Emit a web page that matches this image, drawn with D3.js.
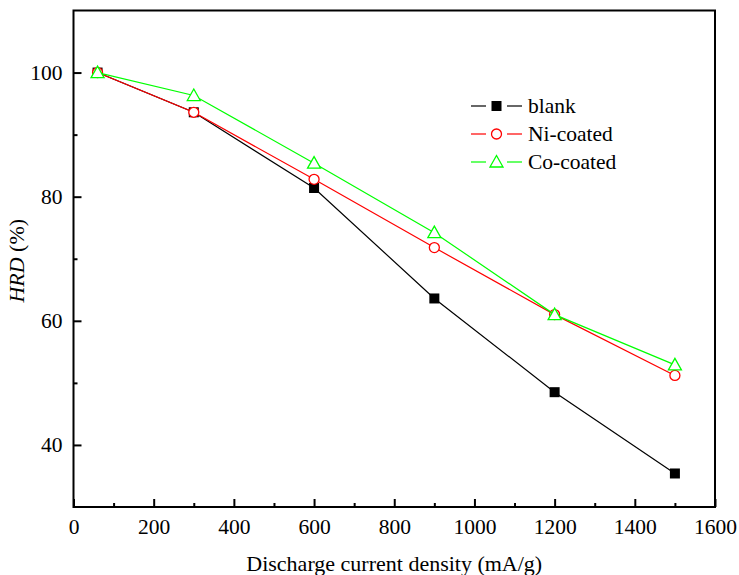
<!DOCTYPE html>
<html><head><meta charset="utf-8">
<script src="https://cdn.jsdelivr.net/npm/d3@7"></script>
<style>body{margin:0;background:#fff}svg{display:block}text{font-family:"Liberation Serif","Times New Roman",serif;fill:#000}</style>
</head><body>
<svg id="c" width="739" height="575"></svg>
<script>
const xValues = [60, 300, 600, 900, 1200, 1500];
const blank = [100, 93.6, 81.4, 63.6, 48.5, 35.4];
const niCoated = [100, 93.6, 82.8, 71.8, 61.0, 51.2];
const coCoated = [100, 96.3, 85.4, 74.2, 61.0, 52.9];
const seriesNames = ["blank", "Ni-coated", "Co-coated"];
const xTicks = [0, 200, 400, 600, 800, 1000, 1200, 1400, 1600];
const yTicks = [40, 60, 80, 100];

const svg = d3.select("#c");
const L = 73.5, R = 715, T = 10.5, B = 507;
const x = d3.scaleLinear().domain([0, 1600]).range([L, R]);
const y = d3.scaleLinear().domain([30, 110]).range([B, T]);

// frame
svg.append("rect").attr("x", L).attr("y", T).attr("width", R - L).attr("height", B - T)
  .attr("fill", "none").attr("stroke", "#000").attr("stroke-width", 2);

// x axis
const xAxis = svg.append("g").attr("transform", `translate(0,${B})`)
  .call(d3.axisBottom(x).tickValues(xTicks).tickSize(-8).tickPadding(12).tickFormat(d3.format("d")));
xAxis.select(".domain").remove();
xAxis.selectAll(".tick line").attr("stroke-width", 2);
xAxis.selectAll("text").style("font-size", "21.5px").style("font-family", "Liberation Serif");
const xMinor = svg.append("g").attr("transform", `translate(0,${B})`)
  .call(d3.axisBottom(x).tickValues(d3.range(100, 1600, 200)).tickSize(-4).tickFormat(""));
xMinor.select(".domain").remove();
xMinor.selectAll(".tick line").attr("stroke-width", 2);

// y axis
const yAxis = svg.append("g").attr("transform", `translate(${L},0)`)
  .call(d3.axisLeft(y).tickValues(yTicks).tickSize(-8).tickPadding(11).tickFormat(d3.format("d")));
yAxis.select(".domain").remove();
yAxis.selectAll(".tick line").attr("stroke-width", 2);
yAxis.selectAll("text").style("font-size", "21.5px").style("font-family", "Liberation Serif");
const yMinor = svg.append("g").attr("transform", `translate(${L},0)`)
  .call(d3.axisLeft(y).tickValues([50, 70, 90]).tickSize(-4).tickFormat(""));
yMinor.select(".domain").remove();
yMinor.selectAll(".tick line").attr("stroke-width", 2);

// axis titles
svg.append("text").attr("x", (L + R) / 2).attr("y", 571).attr("text-anchor", "middle")
  .style("font-size", "22px").text("Discharge current density (mA/g)");
const yt = svg.append("text").attr("transform", `translate(24,${(T + B) / 2 + 2}) rotate(-90)`)
  .attr("text-anchor", "middle").style("font-size", "22px");
yt.append("tspan").style("font-style", "italic").text("HRD");
yt.append("tspan").text(" (%)");

const series = [
  {name: seriesNames[0], vals: blank, color: "#000000", shape: "square"},
  {name: seriesNames[1], vals: niCoated, color: "#ff0000", shape: "circle"},
  {name: seriesNames[2], vals: coCoated, color: "#00ff00", shape: "triangle"}
];

function drawMarker(g, shape, color, cx, cy) {
  if (shape === "square") {
    g.append("rect").attr("x", cx - 5).attr("y", cy - 5).attr("width", 10).attr("height", 10).attr("fill", color);
  } else if (shape === "circle") {
    g.append("circle").attr("cx", cx).attr("cy", cy).attr("r", 5).attr("fill", "#fff")
      .attr("stroke", color).attr("stroke-width", 1.3);
  } else {
    g.append("path").attr("d", `M${cx},${cy - 6.5}L${cx + 6.5},${cy + 5}L${cx - 6.5},${cy + 5}Z`)
      .attr("fill", "#fff").attr("stroke", color).attr("stroke-width", 1.3);
  }
}

const line = d3.line().x(d => x(d[0])).y(d => y(d[1]));
series.forEach(s => {
  const pts = xValues.map((v, i) => [v, s.vals[i]]);
  svg.append("path").attr("d", line(pts)).attr("fill", "none").attr("stroke", s.color).attr("stroke-width", 1.2);
  const g = svg.append("g");
  pts.forEach(p => drawMarker(g, s.shape, s.color, x(p[0]), y(p[1])));
});

// legend
const legY = [106, 134, 162];
series.forEach((s, i) => {
  const g = svg.append("g");
  g.append("line").attr("x1", 471).attr("x2", 486).attr("y1", legY[i]).attr("y2", legY[i])
    .attr("stroke", s.color).attr("stroke-width", 1.2);
  g.append("line").attr("x1", 507).attr("x2", 522).attr("y1", legY[i]).attr("y2", legY[i])
    .attr("stroke", s.color).attr("stroke-width", 1.2);
  drawMarker(g, s.shape, s.color, 496.5, legY[i]);
  g.append("text").attr("x", 528).attr("y", legY[i] + 7).style("font-size", "21.5px").text(s.name);
});
</script>
</body></html>
